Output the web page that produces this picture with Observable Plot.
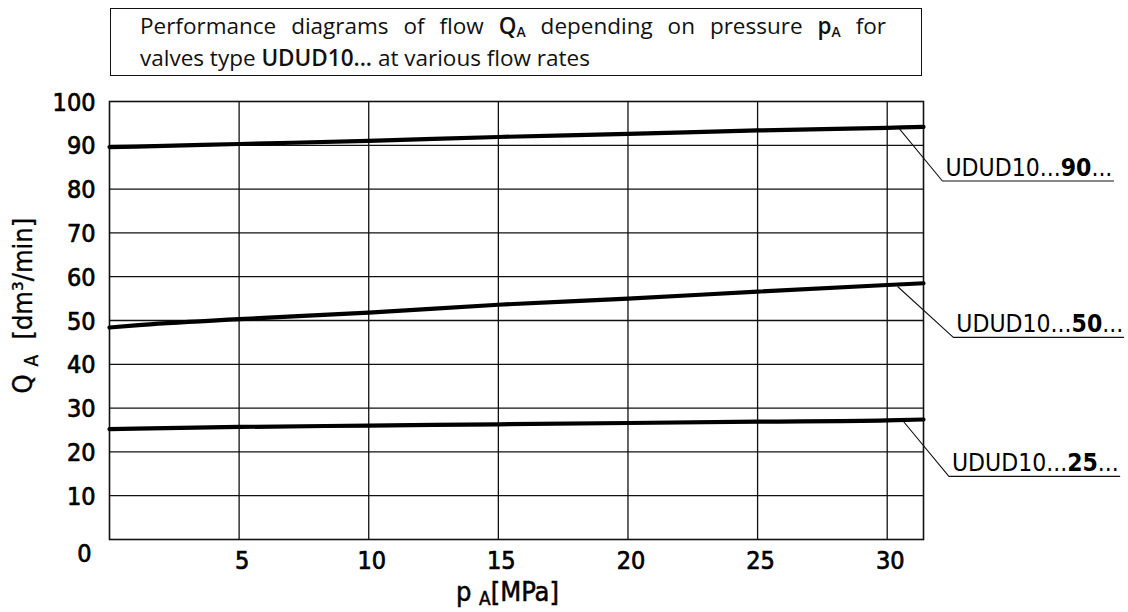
<!DOCTYPE html>
<html>
<head>
<meta charset="utf-8">
<script src="https://cdn.jsdelivr.net/npm/d3@7"></script>
<script src="https://cdn.jsdelivr.net/npm/@observablehq/plot@0.6"></script>
<style>
  html, body { margin: 0; padding: 0; background: #fff; }
  #wrap { position: relative; width: 1128px; height: 612px; }
  #title {
    position: absolute; left: 110px; top: 8px; width: 810px; height: 66px;
    border: 1.3px solid #111; box-sizing: content-box;
    font-family: "Open Sans", sans-serif; font-size: 22.5px; color: #111;
    line-height: 32px;
  }
  #title .l1 { position: absolute; left: 29px; top: 1px; width: 746px; text-align: justify; text-align-last: justify; white-space: nowrap; }
  #title .l2 { position: absolute; left: 29px; top: 33px; white-space: nowrap; }
  #title b { font-weight: 600; }
  #title sub { font-size: 0.62em; vertical-align: -0.25em; line-height: 0; }
  #chart { position: absolute; left: 0; top: 0; }
</style>
</head>
<body>
<div id="wrap">
  <div id="chart"></div>
  <div id="title">
    <div class="l1">Performance diagrams of flow <b>Q<sub>A</sub></b> depending on pressure <b>p<sub>A</sub></b> for</div>
    <div class="l2">valves type <b>UDUD10...</b> at various flow rates</div>
  </div>
</div>
<script>
// ---- data ----
const pressure = [0, 1, 5, 10, 15, 20, 25, 30, 31.4];
const q90 = [89.6, 89.7, 90.3, 91.0, 91.9, 92.6, 93.4, 94.0, 94.2];
const q50 = [48.4, 48.9, 50.3, 51.8, 53.6, 55.0, 56.6, 58.1, 58.5];
const q25 = [25.2, 25.3, 25.7, 26.0, 26.3, 26.6, 26.9, 27.2, 27.4];
const seriesNames = ["90", "50", "25"];
const xTicks = [5, 10, 15, 20, 25, 30];
const yTicks = [10, 20, 30, 40, 50, 60, 70, 80, 90, 100];
const legendLabels = ["UDUD10...90...", "UDUD10...50...", "UDUD10...25..."];
// leader lines: [start on curve, corner, end of underline] in data units
const leaderX = [[30.48, 32.13, 38.73], [30.41, 32.55, 39.12], [30.62, 32.38, 38.97]];
const leaderY = [[93.7, 81.85], [57.7, 46.15], [27.0, 14.42]];
const xLabel = "p A [MPa]";
const yLabel = "Q A [dm³/min]";

// ---- build tables ----
const allQ = [q90, q50, q25];
const curves = [];
seriesNames.forEach((n, i) => pressure.forEach((p, j) => curves.push({name: n, p, q: allQ[i][j]})));
const leaders = [];
seriesNames.forEach((n, i) => {
  leaders.push({name: n, x: leaderX[i][0], y: leaderY[i][0]});
  leaders.push({name: n, x: leaderX[i][1], y: leaderY[i][1]});
  leaders.push({name: n, x: leaderX[i][2], y: leaderY[i][1]});
});
const legend = seriesNames.map((n, i) => ({label: legendLabels[i], x: leaderX[i][1], y: leaderY[i][1]}));

const FONT = "'DejaVu Sans Condensed', 'DejaVu Sans', sans-serif";
const tickStyle = {fontSize: 25, fill: "#000", stroke: "#000", strokeWidth: 0.7};
const chart = Plot.plot({
  width: 1128, height: 612,
  marginTop: 101, marginBottom: 73, marginLeft: 109, marginRight: 205,
  x: {domain: [0, 31.4], axis: null},
  y: {domain: [0, 100], axis: null},
  style: {fontFamily: FONT, background: "white", color: "#111", overflow: "visible"},
  marks: [
    Plot.ruleX(xTicks, {x: d => d, stroke: "#111", strokeWidth: 1.3}),
    Plot.ruleY(yTicks.filter(v => v < 100), {y: d => d, stroke: "#111", strokeWidth: 1.3}),
    Plot.frame({stroke: "#111", strokeWidth: 1.6}),
    Plot.line(curves, {x: "p", y: "q", z: "name", stroke: "#000", strokeWidth: 4.2, curve: "monotone-x"}),
    Plot.line(leaders, {x: "x", y: "y", z: "name", stroke: "#111", strokeWidth: 1.1}),
    // tick labels
    Plot.text(xTicks, {x: d => d, y: 0, dy: 21, dx: 3, text: d => String(d), ...tickStyle}),
    Plot.text(yTicks, {x: 0, y: d => d, dx: -14, dy: 1, text: d => String(d), textAnchor: "end", ...tickStyle}),
    Plot.text(["0"], {x: 0, y: 0, dx: -18, dy: 14, text: d => d, textAnchor: "end", ...tickStyle}),
    // legend labels
    Plot.text(legend, {x: "x", y: "y", text: "label", dx: 3, dy: -5, textAnchor: "start", lineAnchor: "bottom", fontSize: 24.5, fill: "#000"}),
    // axis labels
    Plot.text([xLabel], {x: 15.35, y: 0, dy: 53, text: d => d, fontSize: 27, fill: "#000", stroke: "#000", strokeWidth: 0.5}),
    Plot.text([yLabel], {x: 0, y: 53.4, dx: -86, text: d => d, fontSize: 27, rotate: -90, fill: "#000", stroke: "#000", strokeWidth: 0.3})
  ]
});
document.getElementById("chart").appendChild(chart);

// ---- rich text post-processing (bold parts, subscripts) ----
const svg = d3.select(chart);
svg.selectAll("text").each(function () {
  const t = this.textContent;
  const sel = d3.select(this);
  if (t.startsWith("UDUD10")) {
    const m = t.match(/^(UDUD10\.\.\.)(\d+)(\.\.\.)$/);
    if (!m) return;
    sel.text(null);
    sel.append("tspan").text(m[1]);
    sel.append("tspan").attr("font-weight", "bold").text(m[2]);
    sel.append("tspan").text(m[3]);
  } else if (t === xLabel || t === yLabel) {
    const parts = t.split(" ");
    sel.text(null);
    sel.append("tspan").text(parts[0] + " ");
    sel.append("tspan").attr("font-size", "0.7em").attr("dy", t === xLabel ? "0.22em" : "0.3em").text(parts[1]);
    sel.append("tspan").attr("dy", t === xLabel ? "-0.15em" : "-0.21em").text((t === yLabel ? "  " : "") + parts.slice(2).join(" "));
  }
});
</script>
</body>
</html>
